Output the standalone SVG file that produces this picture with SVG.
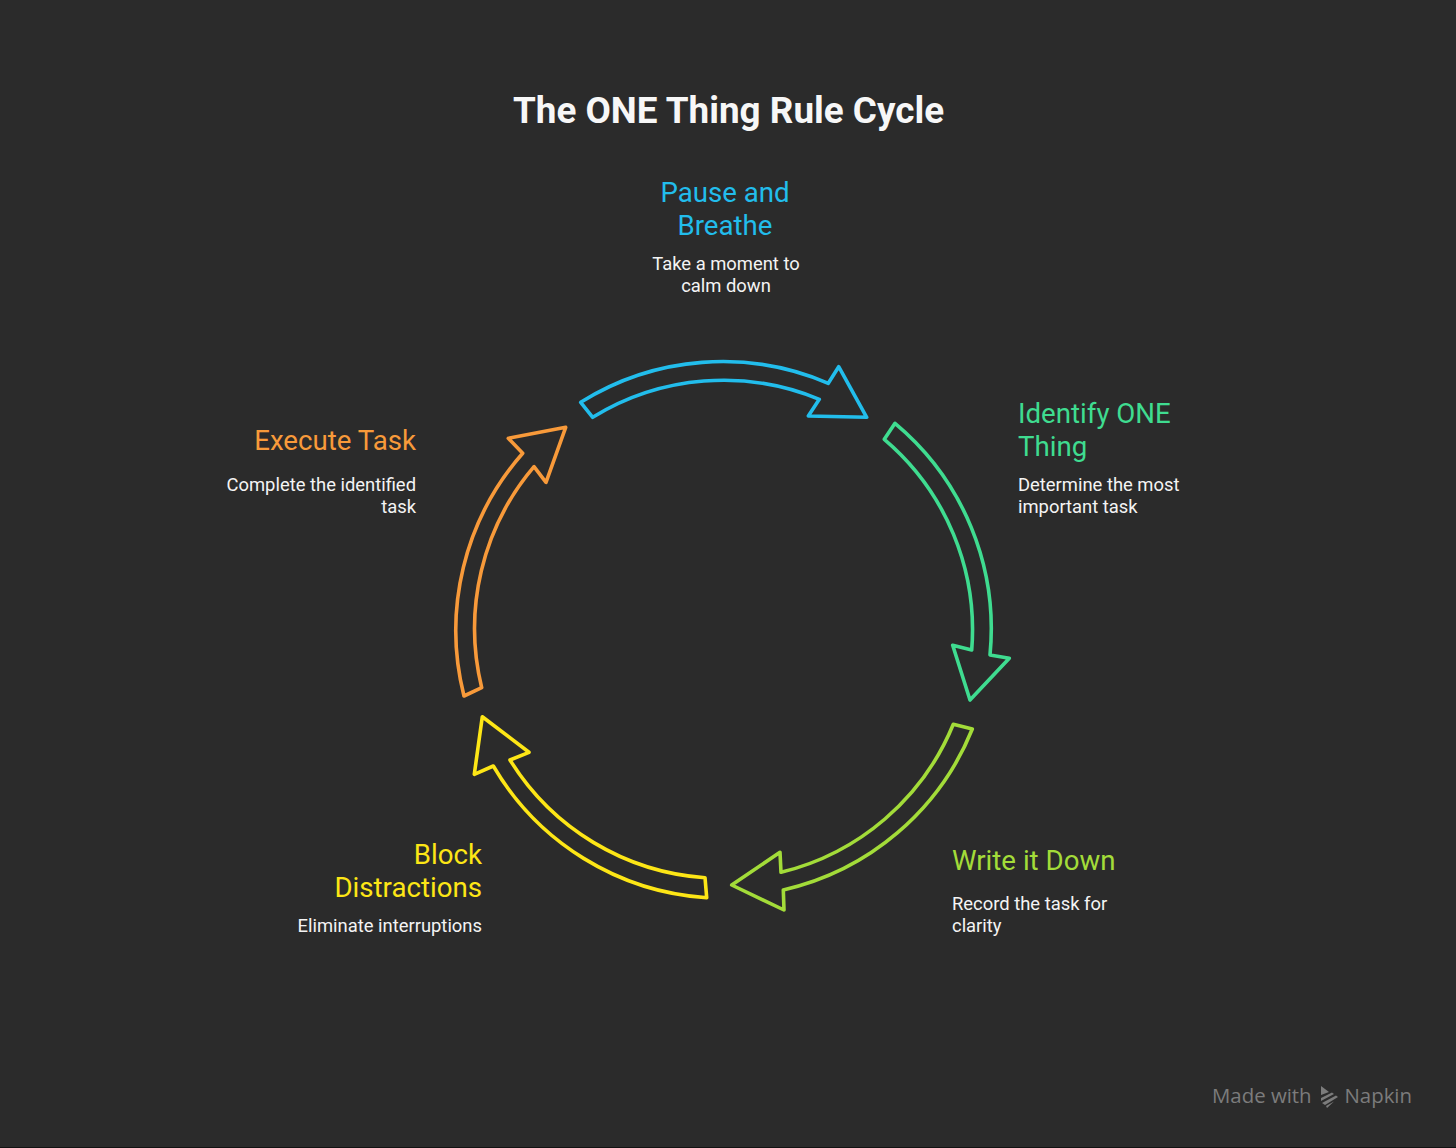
<svg xmlns="http://www.w3.org/2000/svg" width="1456" height="1148" viewBox="0 0 1456 1148">
<style>
text{font-family:Roboto,"Liberation Sans",sans-serif}
.t{font-size:36.85px;font-weight:700;fill:#f7f7f7}
.h{font-size:27.65px}
.d{font-size:18.4px;fill:#f4f4f4}
.m{text-anchor:middle}
.e{text-anchor:end}
.a{fill:none;stroke-width:3.6;stroke-linejoin:round}
.bl{fill:#22bdec;stroke:#22bdec}.gr{fill:#3fdc90;stroke:#3fdc90}.li{fill:#a3dc39;stroke:#a3dc39}.ye{fill:#fde616;stroke:#fde616}.or{fill:#f89a3a;stroke:#f89a3a}
.a.bl,.a.gr,.a.li,.a.ye,.a.or{fill:none}
text.bl,text.gr,text.li,text.ye,text.or{stroke:none}
.w{font-size:20.4px;font-family:"Open Sans",sans-serif;fill:#7c7c7c}
</style>
<rect width="1456" height="1148" fill="#2b2b2b"/>
<rect y="1147" width="1456" height="1" fill="#121212"/>
<text id="title" class="t m" x="728.5" y="123">The ONE Thing Rule Cycle</text>
<g id="connectors">
<path class="a bl" d="M580.7 402.3A268 268 0 0 1 828.3 383.3L838.7 366.7L866.7 417.3L808.3 416L819.3 399.3A250 250 0 0 0 592.7 417.3Z"/>
<path class="a gr" d="M895 423.3A268 268 0 0 1 990 655L1009.3 658.3L970 700L952.7 645.3L971.7 650A250 250 0 0 0 884.3 439.3Z"/>
<path class="a li" d="M972.3 729A268 268 0 0 1 783.3 890L784 910L731.7 885L780 852.3L781 872.3A250 250 0 0 0 953.3 724.3Z"/>
<path class="a ye" d="M706.7 897.7A268 268 0 0 1 493.3 766L474.3 774.3L482.3 716.7L529 752.3L510 760A250 250 0 0 0 705 877.7Z"/>
<path class="a or" d="M464 696A268 268 0 0 1 522.7 453.3L508.3 438.3L565.7 427.3L546 482.3L534 466.7A250 250 0 0 0 481.7 687.7Z"/>
</g>
<g id="node-pause">
<text class="h bl m" x="725" y="202">Pause and</text>
<text class="h bl m" x="725" y="235">Breathe</text>
<text class="d m" x="726" y="270">Take a moment to</text>
<text class="d m" x="726" y="292">calm down</text>
</g>
<g id="node-identify">
<text class="h gr" x="1018" y="423">Identify ONE</text>
<text class="h gr" x="1018" y="456">Thing</text>
<text class="d" x="1018" y="491">Determine the most</text>
<text class="d" x="1018" y="513">important task</text>
</g>
<g id="node-write">
<text class="h li" x="952" y="870">Write it Down</text>
<text class="d" x="952" y="910">Record the task for</text>
<text class="d" x="952" y="932">clarity</text>
</g>
<g id="node-block">
<text class="h ye e" x="482" y="864">Block</text>
<text class="h ye e" x="482" y="897">Distractions</text>
<text class="d e" x="482" y="932">Eliminate interruptions</text>
</g>
<g id="node-execute">
<text class="h or e" x="416" y="450">Execute Task</text>
<text class="d e" x="416" y="491">Complete the identified</text>
<text class="d e" x="416" y="513">task</text>
</g>
<g id="watermark" fill="#7c7c7c">
<text class="w" x="1212" y="1103">Made with</text>
<path d="M1321 1086L1329 1092L1321 1095ZM1321 1098L1332 1092.5L1334 1094L1321 1101ZM1322 1103L1336 1095.5L1338 1097L1325 1105ZM1326 1106L1334 1101.500L1327 1108Z"/>
<text class="w" x="1344.500" y="1103">Napkin</text>
</g>
</svg>
